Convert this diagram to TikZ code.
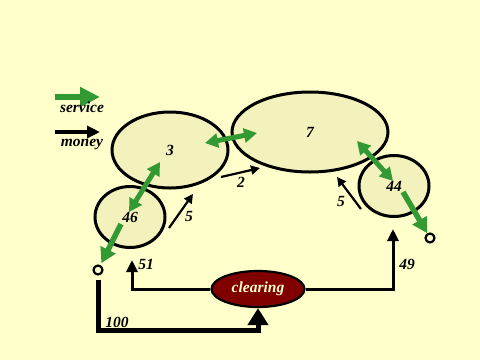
\documentclass[tikz,border=0pt]{standalone}
\usepackage{fontspec}
\setmainfont{Liberation Serif}
\usetikzlibrary{arrows.meta,shapes.geometric}
\definecolor{bg}{HTML}{FFFFCC}
\definecolor{cellfill}{HTML}{F3F1BC}
\definecolor{svc}{HTML}{339933}
\definecolor{clr}{HTML}{800000}
\tikzset{
  cellnode/.style={ellipse,draw=black,line width=3pt,fill=cellfill,inner sep=0pt},
  endpt/.style={circle,draw=black,line width=2.2pt,fill=bg,minimum size=9pt,inner sep=0pt},
  svcarrow/.style={draw=svc,line width=5.5pt,-{Triangle[length=15pt,width=16pt]}},
  svcboth/.style={draw=svc,line width=5pt,{Triangle[length=13pt,width=14pt]}-{Triangle[length=13pt,width=14pt]}},
  monarrow/.style={draw=black,line width=2.2pt,-{Triangle[length=9pt,width=9pt]}},
  flowline/.style={draw=black,line width=3pt,-{Triangle[length=12pt,width=11pt]}},
  bigflow/.style={draw=black,line width=5pt,-{Triangle[length=17pt,width=20pt]}},
  lbl/.style={inner sep=0pt}
}
\begin{document}
\begin{tikzpicture}[x=1pt,y=-1pt,font=\fontsize{15.5}{18}\selectfont\bfseries\itshape]
\fill[bg] (0,0) rectangle (480,360);
\useasboundingbox (0,0) rectangle (480,360);

% legend
\coordinate (ls1) at (55,97);
\coordinate (le1) at (100,97);
\draw[draw=svc,line width=6.5pt,-{Triangle[length=20pt,width=19pt]}] (ls1) -- (le1);
\node[lbl] (tsvc) at (82,107) {service};
\coordinate (ls2) at (55,132);
\coordinate (le2) at (100,132);
\draw[draw=black,line width=4.5pt,-{Triangle[length=13pt,width=12pt]}] (ls2) -- (le2);
\node[lbl] (tmon) at (82,145) {money};

% cells
\node[cellnode,minimum width=116pt,minimum height=76pt] (n3) at (170,150) {3};
\node[cellnode,minimum width=156pt,minimum height=80pt] (n7) at (310,132) {7};
\node[cellnode,minimum width=70pt,minimum height=61pt] (n46) at (130,217) {46};
\node[cellnode,minimum width=70pt,minimum height=61pt] (n44) at (394,186) {44};

% end points
\node[endpt] (c1) at (98,270) {};
\node[endpt] (c2) at (430,238) {};

% service arrows
\coordinate (a1) at (160,162);
\coordinate (a2) at (129,212);
\draw[svcboth] (a1) -- (a2);
\coordinate (b1) at (205,143);
\coordinate (b2) at (257,133);
\draw[svcboth] (b1) -- (b2);
\coordinate (d1) at (357,141);
\coordinate (d2) at (393,181);
\draw[svcboth] (d1) -- (d2);
\coordinate (s46) at (121,224);
\draw[svcarrow,shorten >=2pt] (s46) -- (c1);
\coordinate (s44) at (403,192);
\draw[svcarrow] (s44) -- (c2);

% money arrows
\coordinate (m2a) at (221,177);
\coordinate (m2b) at (260,168);
\draw[monarrow] (m2a) -- (m2b);
\node[lbl] (t2) at (241,182) {2};
\coordinate (m5a) at (169,228);
\coordinate (m5b) at (193,194);
\draw[monarrow] (m5a) -- (m5b);
\node[lbl] (t5a) at (189,216) {5};
\coordinate (m5c) at (361,209);
\coordinate (m5d) at (337,177);
\draw[monarrow] (m5c) -- (m5d);
\node[lbl] (t5b) at (341,201) {5};

% clearing
\node[ellipse,draw=black,line width=2.2pt,fill=clr,text=bg,minimum width=93pt,minimum height=36pt,inner sep=0pt] (clr) at (258,289) {clearing};
\coordinate (c51) at (132,260);
\coordinate (c49) at (393,229);
\draw[flowline] (clr.west) -| (c51);
\draw[flowline] (clr.east) -| (c49);
\node[lbl] (t51) at (146,264) {51};
\node[lbl] (t49) at (407,264) {49};
\coordinate (k) at (258,330);
\draw[bigflow,shorten <=4pt] (c1.south) |- (k) -- (clr.south);
\node[lbl] (t100) at (117,322) {100};
\end{tikzpicture}
\end{document}
